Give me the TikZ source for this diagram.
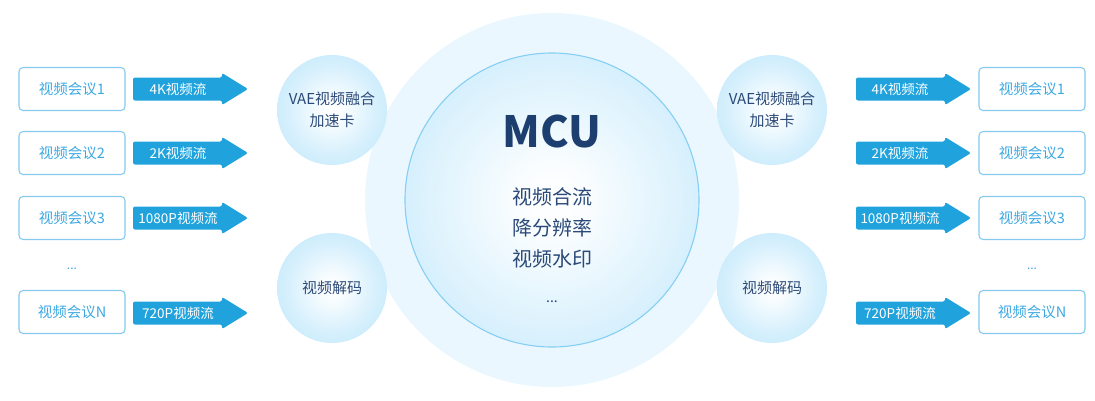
\documentclass[tikz,border=0pt]{standalone}
\usepackage{fontspec}
\setmainfont{Noto Sans CJK SC}
\usetikzlibrary{shapes.geometric}
\definecolor{boxline}{HTML}{86CBEF}
\definecolor{boxtext}{HTML}{3DA8E0}
\definecolor{arrowc}{HTML}{20A3DC}
\definecolor{halo}{HTML}{EBF7FE}
\definecolor{ballc}{HTML}{BCE6FB}
\definecolor{mculine}{HTML}{86CFF2}
\definecolor{darktext}{HTML}{1D3F70}
\definecolor{midtext}{HTML}{2B4A78}
\pgfdeclareradialshading{ball}{\pgfpoint{0bp}{0bp}}{color(0bp)=(white); color(4bp)=(white!95!ballc); color(20bp)=(white!40!ballc); color(35.4bp)=(ballc); color(100bp)=(ballc)}
\pgfdeclareradialshading{bigball}{\pgfpoint{0bp}{0bp}}{color(0bp)=(white); color(6bp)=(white!92!ballc); color(24bp)=(white!42!ballc); color(35.4bp)=(ballc); color(100bp)=(ballc)}
\tikzset{
  confbox/.style={draw=boxline, line width=1.1pt, rounded corners=4pt, minimum width=106pt, minimum height=43pt, text=boxtext, font=\fontsize{14.5}{16}\selectfont, inner sep=0pt},
  streamfill/.style={fill=arrowc, rounded corners=2pt},
  streamtext/.style={text=white, font=\fontsize{13.5}{15}\selectfont, inner sep=0pt},
  smallball/.style={circle, minimum size=110pt, inner sep=0pt, shading=ball, text=midtext, font=\fontsize{15}{22}\selectfont, align=center},
  dotstext/.style={text=boxtext, font=\fontsize{12}{14}\selectfont, inner sep=0pt},
}
\newcommand{\streamarrow}[2]{%
  \path[streamfill] (#1,#2-11.5) -- (#1+89,#2-11.5) -- (#1+89,#2-16) -- (#1+115,#2) -- (#1+89,#2+16) -- (#1+89,#2+11.5) -- (#1,#2+11.5) -- cycle;
}
\begin{document}
\begin{tikzpicture}[x=1pt,y=-1pt]
\useasboundingbox (0,0) rectangle (1095,400);
% halo and MCU
\node[circle, minimum size=374pt, fill=halo, inner sep=0pt] (halo) at (552,200) {};
\node[circle, minimum size=294pt, inner sep=0pt, shading=bigball, draw=mculine, line width=1.1pt] (mcu) at (552,200) {};
\node[text=darktext, font=\fontsize{43}{46}\selectfont\bfseries, inner sep=0pt] (mcut) at (552,131) {MCU};
\node[text=midtext, font=\fontsize{20}{31}\selectfont, align=center, inner sep=0pt, anchor=north] (mcuf) at (552,187) {视频合流\\降分辨率\\视频水印\\[5pt]{\fontsize{14}{14}\selectfont ...}};
% small balls
\node[smallball] (vael) at (332,110) {VAE视频融合\\加速卡};
\node[smallball] (decl) at (332,288) {视频解码};
\node[smallball] (vaer) at (772,110) {VAE视频融合\\加速卡};
\node[smallball] (decr) at (772,288) {视频解码};
% left boxes
\node[confbox] (l1) at (72,89) {视频会议1};
\node[confbox] (l2) at (72,153) {视频会议2};
\node[confbox] (l3) at (72,218) {视频会议3};
\node[dotstext] (ld) at (72,269) {...};
\node[confbox] (ln) at (72,312) {视频会议N};
% right boxes
\node[confbox] (r1) at (1032,89) {视频会议1};
\node[confbox] (r2) at (1032,153) {视频会议2};
\node[confbox] (r3) at (1032,218) {视频会议3};
\node[dotstext] (rd) at (1032,269) {...};
\node[confbox] (rn) at (1032,312) {视频会议N};
% left arrows
\streamarrow{133}{89}
\node[streamtext] (la1) at (178,89) {4K视频流};
\streamarrow{133}{153}
\node[streamtext] (la2) at (178,153) {2K视频流};
\streamarrow{133}{218}
\node[streamtext] (la3) at (178,218) {1080P视频流};
\streamarrow{133}{313}
\node[streamtext] (lan) at (178,313) {720P视频流};
% right arrows
\streamarrow{856}{89}
\node[streamtext] (ra1) at (900,89) {4K视频流};
\streamarrow{856}{153}
\node[streamtext] (ra2) at (900,153) {2K视频流};
\streamarrow{856}{218}
\node[streamtext] (ra3) at (900,218) {1080P视频流};
\streamarrow{856}{313}
\node[streamtext] (ran) at (900,313) {720P视频流};
\end{tikzpicture}
\end{document}
